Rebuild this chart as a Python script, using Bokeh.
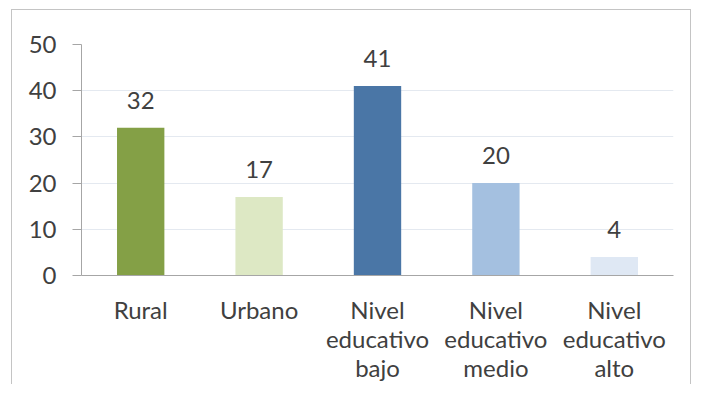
from bokeh.plotting import figure
from bokeh.models import ColumnDataSource, Range1d, FixedTicker, LabelSet
from bokeh.core.properties import value
from bokeh.embed import file_html
from bokeh.resources import INLINE

categories = ["Rural", "Urbano", "Nivel\neducativo\nbajo", "Nivel\neducativo\nmedio", "Nivel\neducativo\nalto"]
values = [32, 17, 41, 20, 4]
colors = ["#84a046", "#dde8c4", "#4a76a6", "#a4c0e0", "#dfe8f4"]
labels = [str(v) for v in values]
y_ticks = [0, 10, 20, 30, 40, 50]

src = ColumnDataSource(dict(cat=categories, val=values, color=colors, lab=labels))

p = figure(x_range=categories, width=680, height=375, output_backend="svg",
           toolbar_location=None, min_border_left=69, min_border_right=19,
           min_border_top=34, min_border_bottom=110)
p.styles = {"border-top": "1px solid #c4c4c4", "border-left": "1px solid #c4c4c4",
            "border-right": "1px solid #c4c4c4", "margin-left": "11px", "margin-top": "9px"}
p.x_range.range_padding = 0
p.y_range = Range1d(0, 50)

p.vbar(x="cat", top="val", width=0.4, color="color", source=src, line_color=None)

lab = LabelSet(x="cat", y="val", text="lab", source=src, text_align="center",
               text_baseline="bottom", y_offset=19, text_font=value("Lato"),
               text_font_size="24px", text_color="#404040")
p.add_layout(lab)

p.outline_line_color = None
p.background_fill_color = "white"
p.border_fill_color = "white"

p.xgrid.grid_line_color = None
p.ygrid.grid_line_color = "#e4e9f0"
p.ygrid.ticker = FixedTicker(ticks=y_ticks)

p.yaxis.ticker = FixedTicker(ticks=y_ticks)
p.yaxis.axis_line_color = "#a6a6a6"
p.yaxis.major_tick_line_color = "#a6a6a6"
p.yaxis.major_tick_out = 9
p.yaxis.major_tick_in = 0
p.yaxis.minor_tick_line_color = None
p.yaxis.major_label_standoff = 16
p.yaxis.major_label_text_font = "Lato"
p.yaxis.major_label_text_font_size = "24px"
p.yaxis.major_label_text_color = "#404040"

p.xaxis.axis_line_color = "#a6a6a6"
p.xaxis.major_tick_line_color = None
p.xaxis.minor_tick_line_color = None
p.xaxis.major_label_standoff = 13
p.xaxis.major_label_text_font = "Lato"
p.xaxis.major_label_text_font_size = "24px"
p.xaxis.major_label_text_color = "#404040"
p.xaxis.major_label_text_line_height = 1.0

open("out.html", "w").write(file_html(p, INLINE))
